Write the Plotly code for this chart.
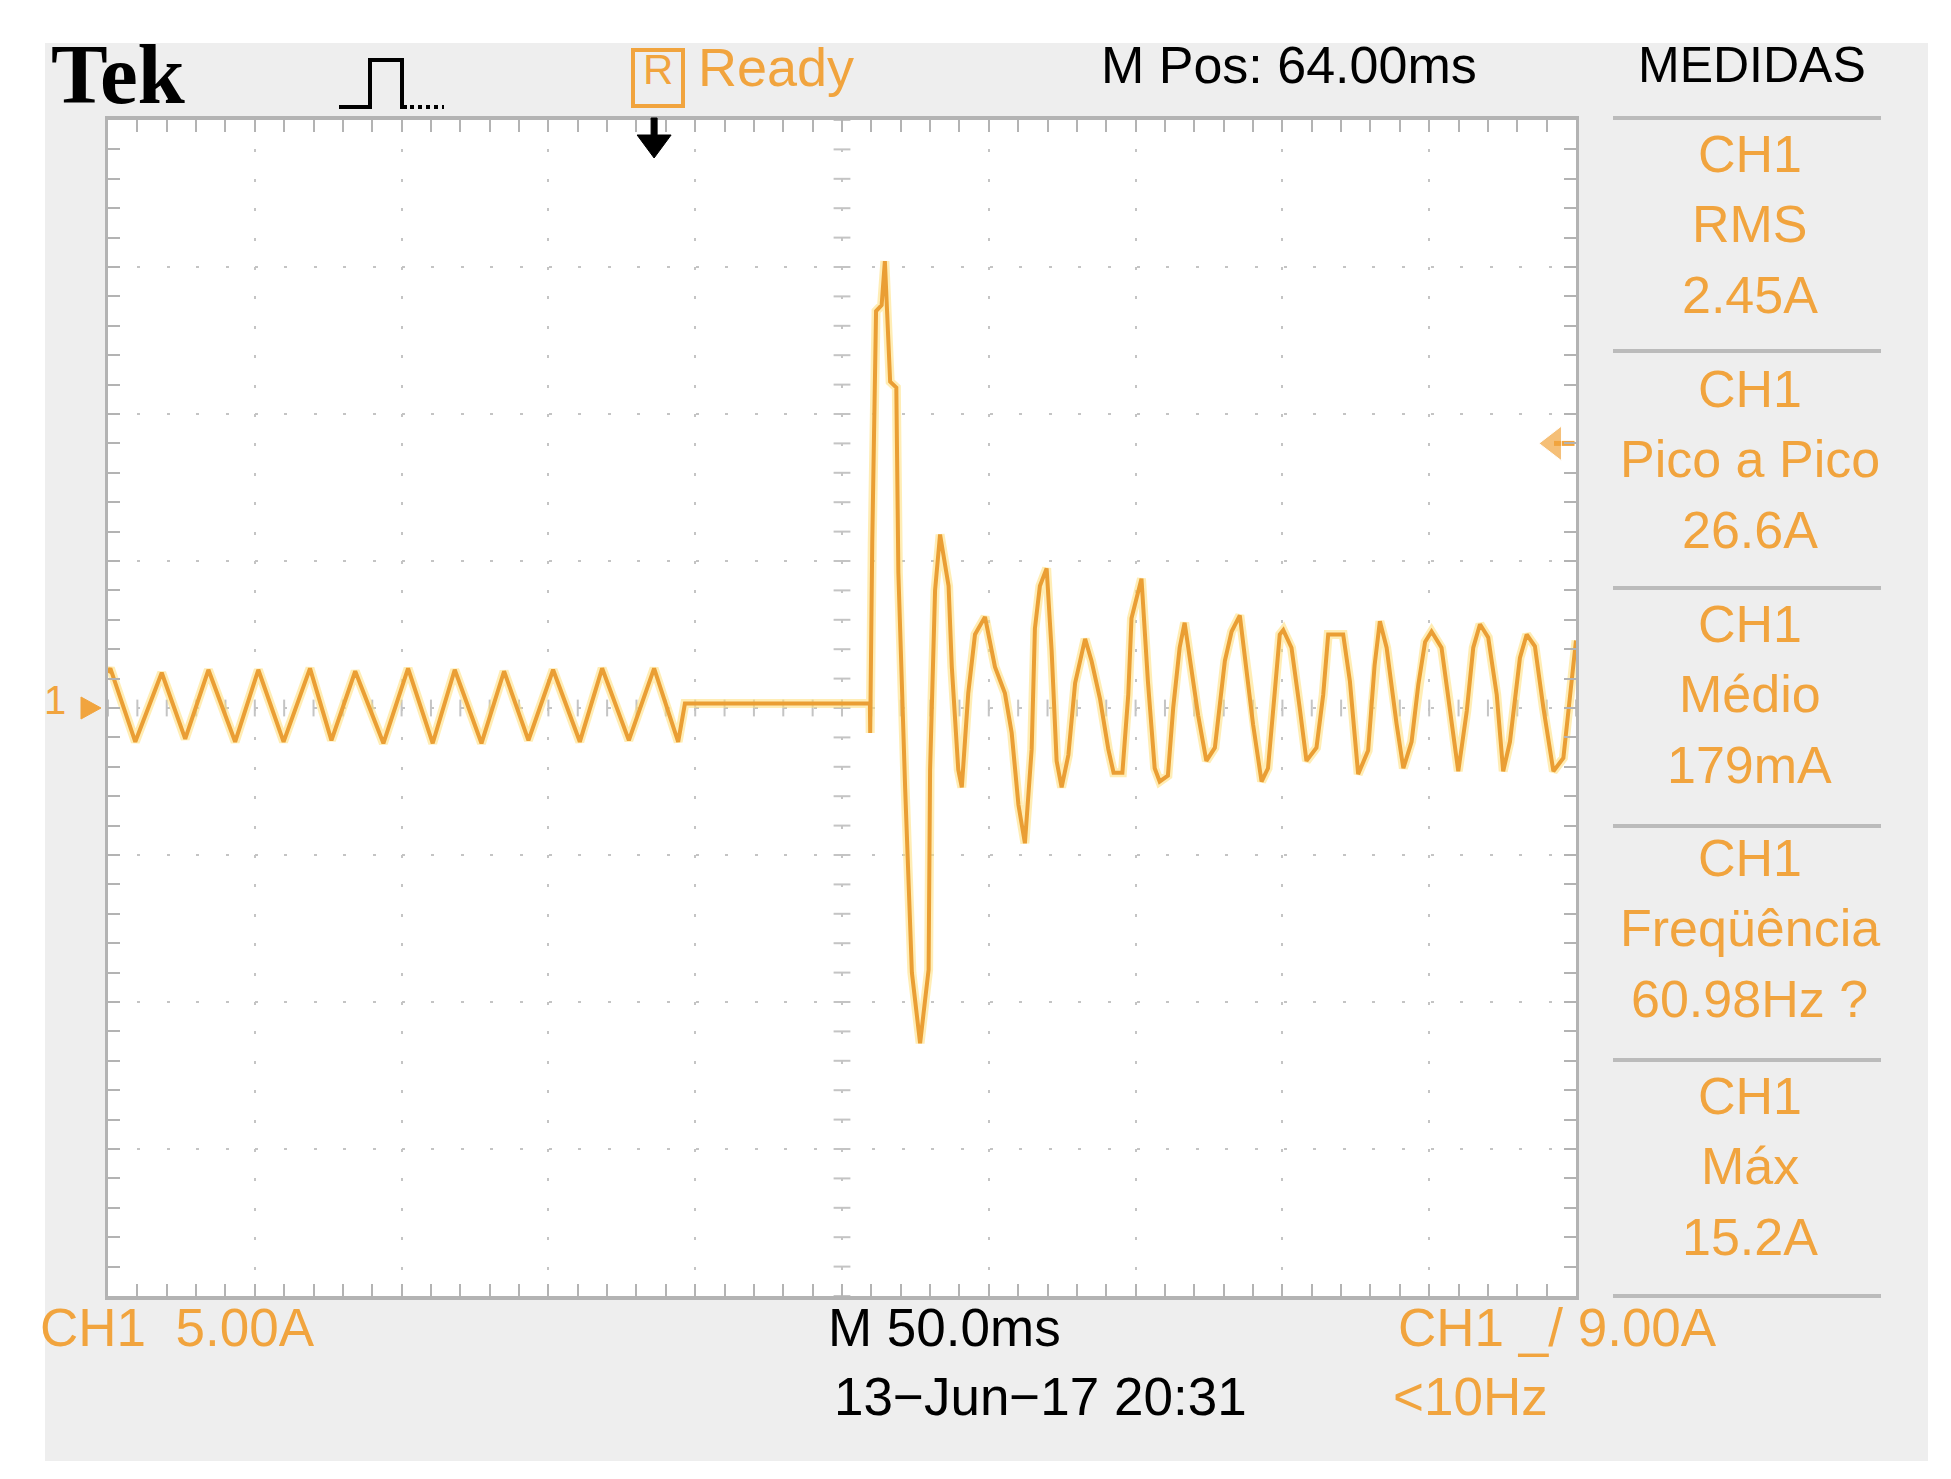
import plotly.graph_objects as go

# ---------------------------------------
# Waveform vertices
# time in ms from the left edge of the screen, current in A
# ---------------------------------------
pre_t = [0.0, 0.8, 9.3, 18.3, 26.3, 34.2, 43.3, 51.2, 59.8, 68.8, 76.1, 84.2, 93.8,
         102.2, 110.6, 118.1, 127.2, 134.9, 143.2, 151.6, 160.7, 168.3, 177.4, 186.0,
         194.2, 196.5]
pre_i = [1.2, 1.35, -1.15, 1.2, -1.05, 1.3, -1.15, 1.3, -1.15, 1.35, -1.1, 1.25, -1.2,
         1.35, -1.2, 1.3, -1.2, 1.25, -1.1, 1.3, -1.15, 1.35, -1.1, 1.35,
         -1.15, 0.15]

open_t = [196.5, 259.5]
open_i = [0.15, 0.15]

fault_t = [259.5, 259.6, 260.3, 261.6, 263.5, 264.6, 266.4, 268.5, 269.2, 270.3, 271.5,
           273.8, 276.6, 279.5, 280.0, 281.7, 283.4, 286.3, 287.4, 289.6, 290.8,
           293.0, 295.3, 298.7, 302.1, 305.5, 307.8, 310.1, 312.3, 314.6, 315.7,
           317.4, 319.7, 321.4, 323.1, 324.8, 327.1, 329.4, 332.8, 335.0, 337.9,
           340.7, 342.5, 345.5]
fault_i = [0.15, -0.85, 5.6, 13.5, 13.7, 15.2, 11.1, 10.9, 4.6, 0.5, -2.7,
           -9.0, -11.4, -8.9, -2.1, 4.0, 5.9, 4.15, 1.4, -2.1, -2.7,
           0.5, 2.5, 3.1, 1.4, 0.5, -0.85, -3.3, -4.6, -1.4, 2.7,
           4.15, 4.75, 1.95, -1.8, -2.7, -1.6, 0.85, 2.35, 1.6, 0.3,
           -1.4, -2.2, -2.2]

post_t = [347.5, 348.6, 352.0, 354.2, 356.5, 358.2, 361.0, 362.8, 365.0, 366.7,
          369.0, 371.3, 374.1, 377.0, 380.4, 382.7, 385.5, 390.0, 392.9, 395.1,
          397.4, 399.1, 400.3, 403.1, 405.9, 408.2, 411.6, 413.9, 415.6, 417.3,
          420.7, 423.0, 425.8, 429.2, 431.4, 433.2, 435.5, 438.9, 441.2, 444.0,
          446.3, 448.6, 450.8, 454.2, 457.1, 459.9, 462.8, 465.0, 467.3, 470.1,
          473.0, 475.2, 477.5, 480.9, 483.2, 486.0, 488.9, 492.3, 495.7, 498.5,
          500.0]
post_i = [0.45, 3.05, 4.4, 0.9, -2.05, -2.5, -2.3, 0.0, 2.05, 2.9,
          1.25, -0.25, -1.8, -1.35, 1.6, 2.6, 3.15, -0.55, -2.5, -2.05,
          0.55, 2.5, 2.65, 2.05, 0.0, -1.8, -1.35, 0.45, 2.5, 2.5,
          2.5, 0.9, -2.25, -1.45, 1.45, 2.95, 2.05, -0.55, -2.05, -1.15,
          0.8, 2.25, 2.6, 2.05, 0.0, -2.15, -0.1, 2.05, 2.85, 2.4,
          0.45, -2.15, -1.15, 1.7, 2.5, 2.1, 0.0, -2.15, -1.7, 0.9,
          2.3]

time_div_ms = 50
amp_div_a = 5
trig_time_ms = 186
trig_level_a = 9.0

meas_names = ["RMS", "Pico a Pico", "Médio", "Freqüência", "Máx"]
meas_values = ["2.45A", "26.6A", "179mA", "60.98Hz ?", "15.2A"]

t_ms = pre_t + open_t + fault_t + post_t
i_a = pre_i + open_i + fault_i + post_i

# ---------------------------------------
# Screen geometry (pixels)
# ---------------------------------------
W, H = 1951, 1479
L, T, PW, PH = 100, 112, 1468, 1176

ORANGE = "#F1A43E"
TRACE = "#EA9E34"
GRID = "#C4C4C4"
RULER = "#B3B3B3"
PANEL = "#EEEEEE"
SCOPE_FONT = "Liberation Sans, Arial, sans-serif"


def px(x):
    return (x - L) / PW


def py(y):
    return (T + PH - y) / PH


fig = go.Figure()

# centre-line tick marks
fig.add_trace(go.Scatter(
    x=list(range(0, 501, 10)), y=[0] * 51, mode="markers",
    marker=dict(symbol="line-ns", size=12, line=dict(color=GRID, width=2)),
    hoverinfo="skip", showlegend=False,
))
fig.add_trace(go.Scatter(
    x=[250] * 41, y=list(range(-20, 21)), mode="markers",
    marker=dict(symbol="line-ew", size=12, line=dict(color=GRID, width=2)),
    hoverinfo="skip", showlegend=False,
))

# waveform: yellow glow + orange trace
fig.add_trace(go.Scatter(
    x=t_ms, y=i_a, mode="lines",
    line=dict(color="#FFE07A", width=9), opacity=0.55,
    hoverinfo="skip", showlegend=False,
))
fig.add_trace(go.Scatter(
    x=t_ms, y=i_a, mode="lines",
    line=dict(color=TRACE, width=4),
    name="CH1", showlegend=False,
))

# trigger level marker on the right edge
fig.add_trace(go.Scatter(
    x=[492.5, 499.5], y=[trig_level_a, trig_level_a], mode="lines+markers",
    line=dict(color=ORANGE, width=5),
    marker=dict(symbol="triangle-left", size=[30, 0], color=ORANGE),
    hoverinfo="skip", showlegend=False, cliponaxis=False,
))

axis_common = dict(
    showticklabels=False, zeroline=False, showgrid=True,
    gridcolor=GRID, gridwidth=2,
    showline=True, linecolor=RULER, mirror="ticks",
    ticks="inside", ticklen=12, tickwidth=2, tickcolor=RULER,
    fixedrange=True,
)

fig.update_xaxes(
    range=[0, 10 * time_div_ms], dtick=time_div_ms, tick0=0,
    griddash="3px,26.4px", linewidth=4,
    minor=dict(dtick=time_div_ms / 5, ticks="inside", ticklen=12,
               tickwidth=2, tickcolor=RULER, showgrid=False),
    **axis_common,
)
fig.update_yaxes(
    range=[-4 * amp_div_a, 4 * amp_div_a], dtick=amp_div_a, tick0=0,
    griddash="3px,26.4px", linewidth=3,
    minor=dict(dtick=amp_div_a / 5, ticks="inside", ticklen=12,
               tickwidth=2, tickcolor=RULER, showgrid=False),
    **axis_common,
)

trig_x = L + trig_time_ms * PW / (10 * time_div_ms)

shapes = [
    dict(type="rect", xref="paper", yref="paper", layer="below",
         x0=px(37), x1=px(1920), y0=py(1453), y1=py(35),
         fillcolor=PANEL, line=dict(width=0)),
    dict(type="rect", xref="paper", yref="paper", layer="below",
         x0=0, x1=1, y0=0, y1=1, fillcolor="white", line=dict(width=0)),
    # "R" box
    dict(type="rect", xref="paper", yref="paper",
         x0=px(625), x1=px(675), y0=py(98), y1=py(42),
         line=dict(color=ORANGE, width=4)),
    # acquisition pulse icon
    dict(type="path", xref="paper", yref="paper",
         path="M {a},{b} L {c},{b} L {c},{d} L {e},{d} L {e},{b} L {f},{b}".format(
             a=px(331), b=py(99), c=px(362), d=py(52), e=px(394), f=px(399)),
         line=dict(color="black", width=4)),
    dict(type="line", xref="paper", yref="paper",
         x0=px(402), x1=px(436), y0=py(99), y1=py(99),
         line=dict(color="black", width=4, dash="dot")),
    # trigger position arrow
    dict(type="path", xref="paper", yref="paper", fillcolor="black",
         line=dict(color="black", width=1),
         path="M {a},{t} L {b},{t} L {b},{m} L {c},{m} L {x},{tip} L {d},{m} L {e},{m} Z".format(
             a=px(trig_x - 3), b=px(trig_x + 3), c=px(trig_x + 17), d=px(trig_x - 17),
             e=px(trig_x - 3), x=px(trig_x), t=py(110), m=py(127), tip=py(150))),
    # channel 1 ground marker
    dict(type="path", xref="paper", yref="paper", fillcolor=ORANGE,
         line=dict(color=ORANGE, width=1),
         path="M {a},{t} L {b},{m} L {a},{u} Z".format(
             a=px(73), b=px(93), t=py(689), m=py(700), u=py(711))),
]
for sy in [110, 343, 580, 818, 1052, 1288]:
    shapes.append(dict(type="line", xref="paper", yref="paper",
                       x0=px(1605), x1=px(1873), y0=py(sy), y1=py(sy),
                       line=dict(color="#BBBBBB", width=4)))

annotations = []


def label(text, x, y, color="black", size=53, family=SCOPE_FONT, shift=0.2):
    # y is the centre of the capital letters
    annotations.append(dict(
        text=text, xref="paper", yref="paper", x=px(x), y=py(y - shift * size),
        xanchor="center", yanchor="middle", showarrow=False,
        font=dict(family=family, size=size, color=color),
    ))


label("<b>Tek</b>", 110, 76, size=85, family="Liberation Serif, DejaVu Serif, serif",
      shift=0.12)
label("R", 650, 70, color=ORANGE, size=42)
label("Ready", 768, 70, color=ORANGE, size=54)
label("M Pos: 64.00ms", 1281, 67, size=52)
label("MEDIDAS", 1744, 67, size=50)

block_y = [156, 391, 626, 860, 1098]
for by, name, val in zip(block_y, meas_names, meas_values):
    label("CH1", 1742, by, color=ORANGE, size=52)
    label(name, 1742, by + 70, color=ORANGE, size=52)
    label(val, 1742, by + 141, color=ORANGE, size=52)

label("CH1  5.00A", 169, 1330, color=ORANGE)
label("M 50.0ms", 936, 1330)
label("13\u2212Jun\u221217 20:31", 1032, 1399)
label("CH1 _/ 9.00A", 1549, 1330, color=ORANGE)
label("&lt;10Hz", 1462, 1399, color=ORANGE)
label("1", 47, 700, color=ORANGE, size=40)

fig.update_layout(
    width=W, height=H,
    margin=dict(l=L, r=W - L - PW, t=T, b=H - T - PH, pad=0),
    paper_bgcolor="white", plot_bgcolor="white",
    shapes=shapes, annotations=annotations,
    showlegend=False,
)

fig.write_html("out.html")
